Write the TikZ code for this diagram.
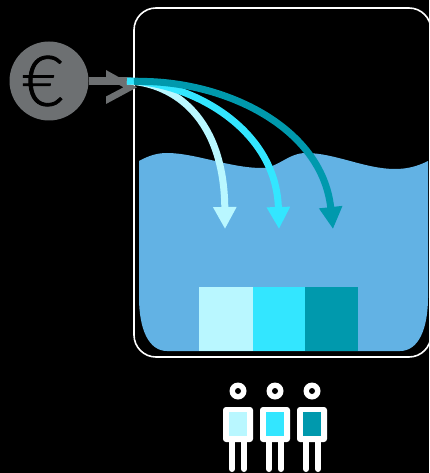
\documentclass[tikz,border=0pt]{standalone}
\usepackage{fontspec}
\usepackage{xcolor}
\usetikzlibrary{arrows.meta}
\newfontfamily\eurofont[FakeBold=1.2]{Lato Light}
\definecolor{paleflow}{HTML}{B9F7FF}
\definecolor{midflow}{HTML}{33E6FF}
\definecolor{darkflow}{HTML}{0099AD}
\definecolor{waterblue}{HTML}{62B2E4}
\definecolor{coingrey}{HTML}{6D7072}
\tikzset{
	flow/.style={line width=7pt,-{Triangle[length=22pt,width=22pt,sep=0pt]}},
	leg/.style={white,line width=6pt,line cap=round},
}

\begin{document}
\begin{tikzpicture}[x=1pt,y=-1pt]
	\fill[black] (0,0) rectangle (429,473);
	\useasboundingbox (0,0) rectangle (429,473);

	% water
	\fill[waterblue] (139,161) .. controls (150,155) and (158,153) .. (167,153)
		.. controls (195,153) and (230,168) .. (262,168)
		.. controls (278,168) and (288,153) .. (306,153)
		.. controls (335,153) and (365,169) .. (395,169)
		.. controls (408,169) and (418,166) .. (428,161)
		-- (428,297) .. controls (428,330) and (418,351) .. (400,351)
		-- (167,351) .. controls (149,351) and (139,330) .. (139,297) -- cycle;
	\fill[paleflow] (199,287) rectangle (253,351);
	\fill[midflow] (253,287) rectangle (305,351);
	\fill[darkflow] (305,287) rectangle (358,351);
	\draw[white,line width=1.6pt,rounded corners=22pt] (134,8) rectangle (431,357);

	% coin
	\node[circle,fill=coingrey,minimum size=79pt,inner sep=0pt] (coin) at (49,81) {};
	\node[black,font=\eurofont\fontsize{70}{70}\selectfont] (euro) at (43,81) {€};
	\coordinate (inlet) at (127,81);
	\coordinate (darkstart) at (134,81.5);
	\draw[coingrey,line width=8pt] (coin.east) -- (inlet);
	\fill[coingrey] (106,70) -- (137,87.3) -- (106,104) -- (106,96.5) -- (123.5,87.3) -- (106,77.5) -- cycle;

	\coordinate (paletip) at (225,229);
	\coordinate (midtip) at (279,229);
	\coordinate (darktip) at (333,229);
	\draw[flow,paleflow] (inlet) .. controls (176,83) and (224,120) .. (paletip);
	\draw[flow,midflow] (inlet) .. controls (185,81) and (276,125) .. (midtip);
	\draw[flow,darkflow] (darkstart) .. controls (220,79) and (322,125) .. (darktip);

	% people
	\foreach \px/\tone in {238/paleflow,275/midflow,312/darkflow}{
		\fill[white] (\px,391) circle (8.5);
		\fill[black] (\px,391) circle (3);
		\fill[white,rounded corners=3pt] (\px-15,407) rectangle (\px+15,442);
		\fill[\tone] (\px-9,412) rectangle (\px+9,436);
		\draw[leg] (\px-6,442) -- (\px-6,469);
		\draw[leg] (\px+6,442) -- (\px+6,469);
	}
\end{tikzpicture}
\end{document}
